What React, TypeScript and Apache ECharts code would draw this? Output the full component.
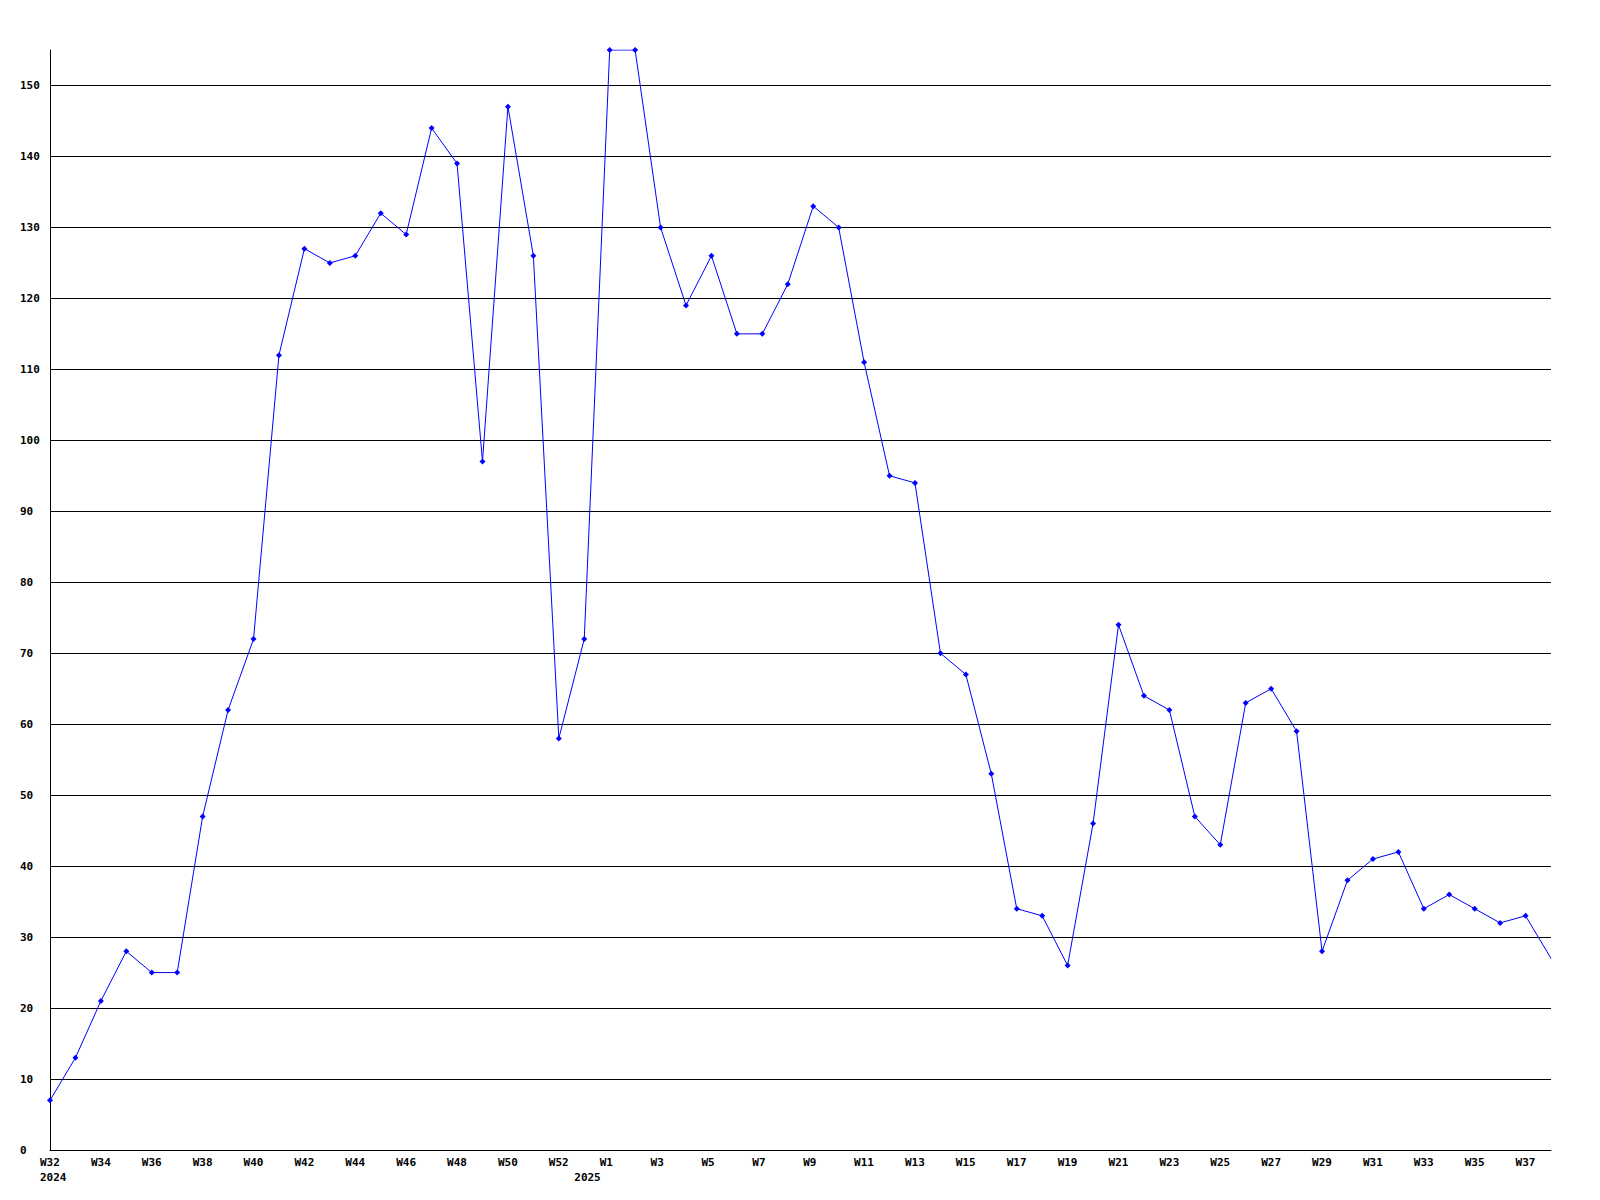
import React, { useEffect, useRef } from "react";
import * as echarts from "echarts";

const weeks2024 = ["W32","W33","W34","W35","W36","W37","W38","W39","W40","W41","W42","W43","W44","W45","W46","W47","W48","W49","W50","W51","W52","W53"];
const weeks2025 = ["W1","W2","W3","W4","W5","W6","W7","W8","W9","W10","W11","W12","W13","W14","W15","W16","W17","W18","W19","W20","W21","W22","W23","W24","W25","W26","W27","W28","W29","W30","W31","W32","W33","W34","W35","W36","W37","W38"];
const categories = [...weeks2024, ...weeks2025];
const yearLabels: Record<number, string> = { 0: "2024", 21: "2025" };

const values = [
  7, 13, 21, 28, 25, 25, 47, 62, 72, 112, 127, 125, 126, 132, 129, 144, 139, 97, 147, 126, 58,
  72,
  155, 155, 130, 119, 126, 115, 115, 122, 133, 130, 111, 95, 94, 70, 67, 53, 34, 33, 26, 46,
  74, 64, 62, 47, 43, 63, 65, 59, 28, 38, 41, 42, 34, 36, 34, 32, 33, 27,
];

const yMin = 0;
const yMax = 155;
const yInterval = 10;

const font = "DejaVu Sans Mono";

export default function App() {
  const ref = useRef<HTMLDivElement>(null);
  useEffect(() => {
    if (!ref.current) return;
    const chart = echarts.init(ref.current, null, { renderer: "svg" });
    const showWeek = (i: number) => i % 2 === 0 && i !== 21;
    const seriesData = values.map((v, i) =>
      i === values.length - 1 ? { value: v, symbol: "none" } : v
    );
    chart.setOption({
      animation: false,
      backgroundColor: "#ffffff",
      grid: { left: 50, right: 49, top: 50, bottom: 50, containLabel: false },
      xAxis: {
        type: "category",
        data: categories,
        boundaryGap: false,
        axisLine: { show: true, lineStyle: { color: "#000", width: 1 } },
        axisTick: { show: false },
        splitLine: { show: false },
        axisLabel: {
          interval: (i: number) => showWeek(i) || !!yearLabels[i],
          margin: 5,
          color: "#000",
          fontFamily: font,
          fontWeight: "bold",
          fontSize: 11,
          lineHeight: 15,
          align: "center",
          rich: {
            a: {
              width: 20,
              align: "left",
              fontFamily: font,
              fontWeight: "bold",
              fontSize: 11,
              lineHeight: 15,
              color: "#000",
            },
          },
          formatter: (v: string, i: number) => {
            const top = showWeek(i) ? v : " ";
            return yearLabels[i] ? "{a|" + top + "}\n{a|" + yearLabels[i] + "}" : "{a|" + top + "}";
          },
        },
      },
      yAxis: {
        type: "value",
        min: yMin,
        max: yMax,
        interval: yInterval,
        axisLine: { show: true, lineStyle: { color: "#000", width: 1 } },
        axisTick: { show: false },
        splitLine: { show: true, showMinLine: false, showMaxLine: false, lineStyle: { color: "#000", width: 1 } },
        axisLabel: {
          showMaxLabel: false,
          margin: 30,
          align: "left",
          color: "#000",
          fontFamily: font,
          fontWeight: "bold",
          fontSize: 11,
        },
      },
      series: [
        {
          type: "line",
          data: seriesData,
          symbol: "diamond",
          symbolSize: 6,
          showAllSymbol: true,
          lineStyle: { color: "#0000ff", width: 1 },
          itemStyle: { color: "#0000ff" },
        },
      ],
    });
    return () => chart.dispose();
  }, []);
  return <div ref={ref} style={{ position: "absolute", left: 0, top: 0, width: 1600, height: 1200 }} />;
}
